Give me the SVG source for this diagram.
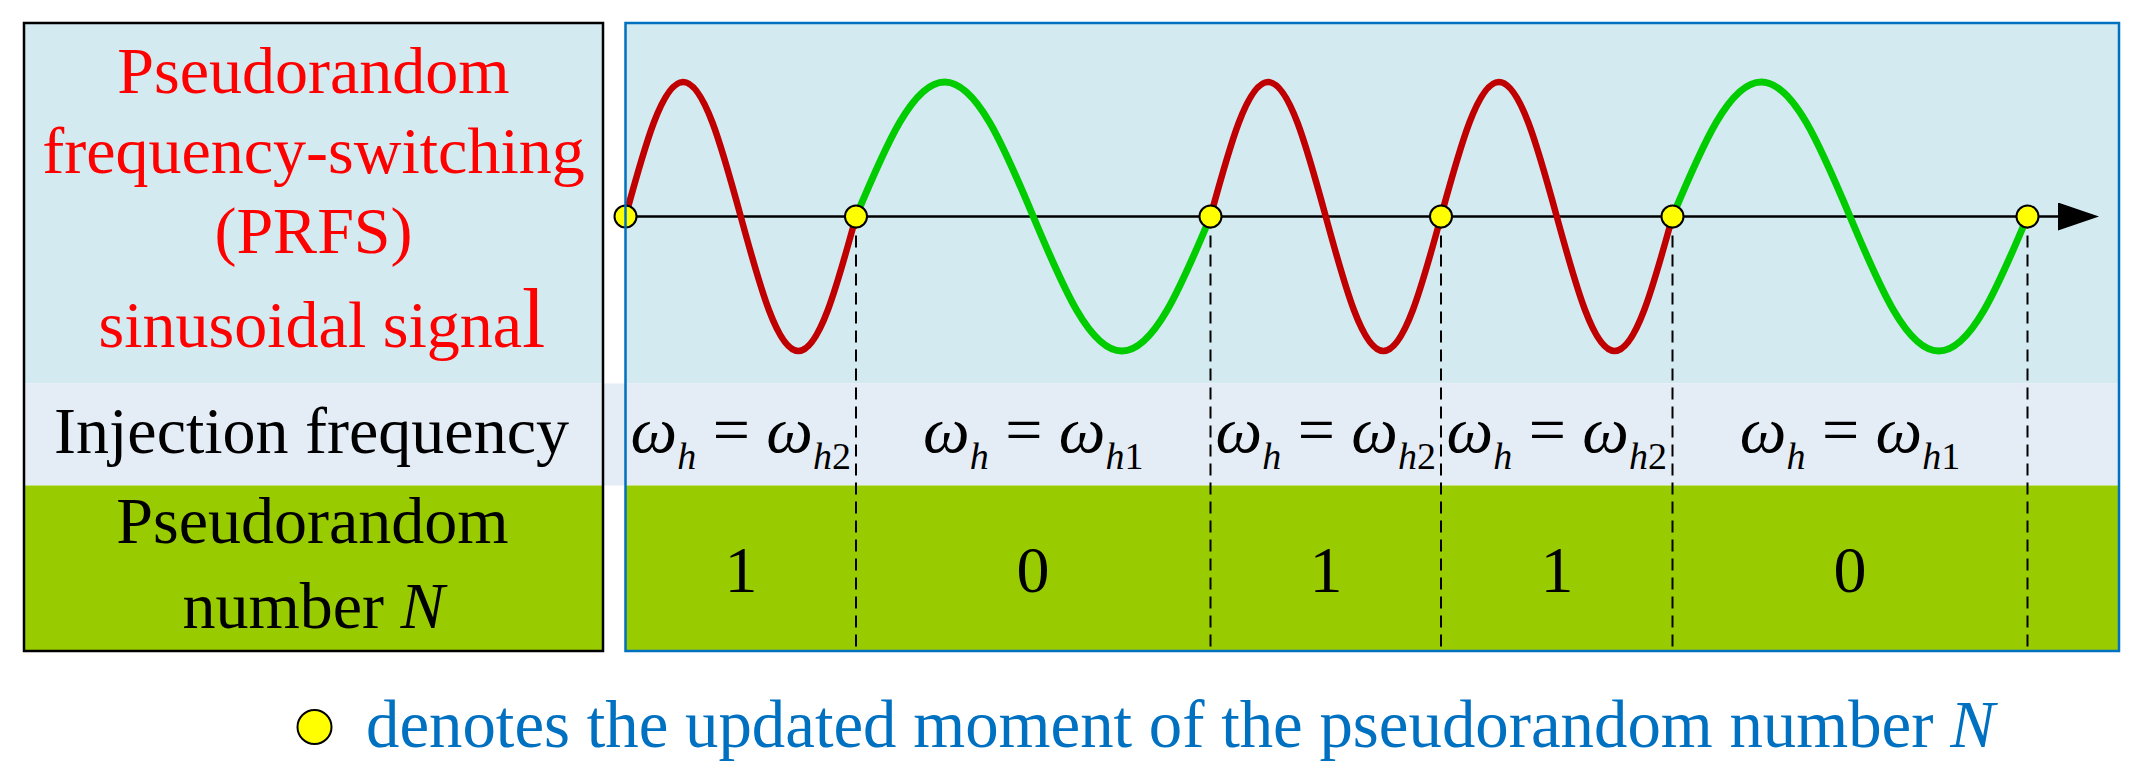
<svg xmlns="http://www.w3.org/2000/svg" width="2142" height="768" viewBox="0 0 2142 768">
<style>
text{font-family:"Liberation Serif","Times New Roman",serif;font-size:66px;fill:#000}
.c{text-anchor:middle}
.red{fill:#FF0000}
.it{font-style:italic}
.sb{font-size:38px}
.wr{fill:none;stroke:#C00000;stroke-width:6.5;stroke-linecap:round}
.wg{fill:none;stroke:#00CC00;stroke-width:7;stroke-linecap:round}
.dash{stroke:#000;stroke-width:2;stroke-dasharray:12 7}
.dot{fill:#FFFF00;stroke:#000;stroke-width:2}
</style>
<defs>
<marker id="arr" viewBox="0 0 41 28" refX="0" refY="14" markerWidth="41" markerHeight="28" markerUnits="userSpaceOnUse" orient="auto">
<path d="M0,0 L41,14 L0,28 Z" fill="#000"/>
</marker>
</defs>
<rect width="2142" height="768" fill="#fff"/>
<g id="backgrounds">
<rect x="24" y="23" width="579" height="360.5" fill="#D2EAF0"/>
<rect x="625.5" y="23" width="1493.5" height="360.5" fill="#D2EAF0"/>
<rect x="24" y="383.5" width="2095" height="102" fill="#E4ECF6"/>
<rect x="24" y="485.5" width="579" height="165.5" fill="#99CC00"/>
<rect x="625.5" y="485.5" width="1493.5" height="165.5" fill="#99CC00"/>
</g>
<g id="left-panel">
<rect x="24" y="23" width="579" height="628" fill="none" stroke="#000" stroke-width="2.5"/>
<text class="c red" x="313.5" y="93">Pseudorandom</text>
<text class="c red" x="313.5" y="173">frequency-switching</text>
<text class="c red" x="313.5" y="253">(PRFS)</text>
<text class="c red" x="322" y="347">sinusoidal signa<tspan font-size="84">l</tspan></text>
<text class="c" x="311.5" y="453">Injection frequency</text>
<text class="c" x="312.5" y="543">Pseudorandom</text>
<text class="c" x="313.5" y="628">number <tspan class="it">N</tspan></text>
</g>
<g id="connectors">
<line x1="625.5" y1="216.5" x2="2058" y2="216.5" stroke="#000" stroke-width="2.5" marker-end="url(#arr)"/>
<line class="dash" x1="856" y1="216.5" x2="856" y2="648"/>
<line class="dash" x1="1210.5" y1="216.5" x2="1210.5" y2="648"/>
<line class="dash" x1="1441" y1="216.5" x2="1441" y2="648"/>
<line class="dash" x1="1672.5" y1="216.5" x2="1672.5" y2="648"/>
<line class="dash" x1="2027.5" y1="216.5" x2="2027.5" y2="648"/>
</g>
<g id="waveform">
<path class="wr" d="M625.5,216.5 C644.76,145.87 662.35,82 683.13,82 C703.9,82 721.49,145.87 740.75,216.5 C760.01,287.13 777.6,351 798.38,351 C819.15,351 836.74,287.13 856,216.5"/>
<path class="wg" d="M856,216.5 C885.63,145.87 912.68,82 944.63,82 C976.58,82 1003.63,145.87 1033.25,216.5 C1062.88,287.13 1089.93,351 1121.88,351 C1153.83,351 1180.88,287.13 1210.5,216.5"/>
<path class="wr" d="M1210.5,216.5 C1229.76,145.87 1247.35,82 1268.13,82 C1288.9,82 1306.49,145.87 1325.75,216.5 C1345.01,287.13 1362.6,351 1383.38,351 C1404.15,351 1421.74,287.13 1441,216.5"/>
<path class="wr" d="M1441,216.5 C1460.35,145.87 1478.01,82 1498.88,82 C1519.74,82 1537.41,145.87 1556.75,216.5 C1576.1,287.13 1593.76,351 1614.63,351 C1635.49,351 1653.16,287.13 1672.5,216.5"/>
<path class="wg" d="M1672.5,216.5 C1702.17,145.87 1729.26,82 1761.25,82 C1793.24,82 1820.33,145.87 1850,216.5 C1879.67,287.13 1906.76,351 1938.75,351 C1970.74,351 1997.83,287.13 2027.5,216.5"/>
</g>
<g id="update-points">
<circle class="dot" cx="625.5" cy="216.5" r="11"/>
<circle class="dot" cx="856" cy="216.5" r="11"/>
<circle class="dot" cx="1210.5" cy="216.5" r="11"/>
<circle class="dot" cx="1441" cy="216.5" r="11"/>
<circle class="dot" cx="1672.5" cy="216.5" r="11"/>
<circle class="dot" cx="2027.5" cy="216.5" r="11"/>
</g>
<g id="right-panel">
<rect x="625.5" y="23" width="1493.5" height="628" fill="none" stroke="#0070C0" stroke-width="2.5"/>
</g>
<g id="frequency-labels">
<text class="c" x="740.75" y="452"><tspan class="it">ω</tspan><tspan class="sb it" dy="17">h</tspan><tspan dy="-17"> = </tspan><tspan class="it">ω</tspan><tspan class="sb" dy="17"><tspan class="it">h</tspan>2</tspan></text>
<text class="c" x="1033.25" y="452"><tspan class="it">ω</tspan><tspan class="sb it" dy="17">h</tspan><tspan dy="-17"> = </tspan><tspan class="it">ω</tspan><tspan class="sb" dy="17"><tspan class="it">h</tspan>1</tspan></text>
<text class="c" x="1325.75" y="452"><tspan class="it">ω</tspan><tspan class="sb it" dy="17">h</tspan><tspan dy="-17"> = </tspan><tspan class="it">ω</tspan><tspan class="sb" dy="17"><tspan class="it">h</tspan>2</tspan></text>
<text class="c" x="1556.75" y="452"><tspan class="it">ω</tspan><tspan class="sb it" dy="17">h</tspan><tspan dy="-17"> = </tspan><tspan class="it">ω</tspan><tspan class="sb" dy="17"><tspan class="it">h</tspan>2</tspan></text>
<text class="c" x="1850" y="452"><tspan class="it">ω</tspan><tspan class="sb it" dy="17">h</tspan><tspan dy="-17"> = </tspan><tspan class="it">ω</tspan><tspan class="sb" dy="17"><tspan class="it">h</tspan>1</tspan></text>
</g>
<g id="number-labels">
<text class="c" x="741" y="592">1</text>
<text class="c" x="1033" y="592">0</text>
<text class="c" x="1326" y="592">1</text>
<text class="c" x="1557" y="592">1</text>
<text class="c" x="1850" y="592">0</text>
</g>
<g id="legend">
<circle class="dot" cx="314.5" cy="727" r="17"/>
<text x="366" y="747" style="fill:#0070C0;font-size:66.8px">denotes the updated moment of the pseudorandom number <tspan class="it">N</tspan></text>
</g>
</svg>
